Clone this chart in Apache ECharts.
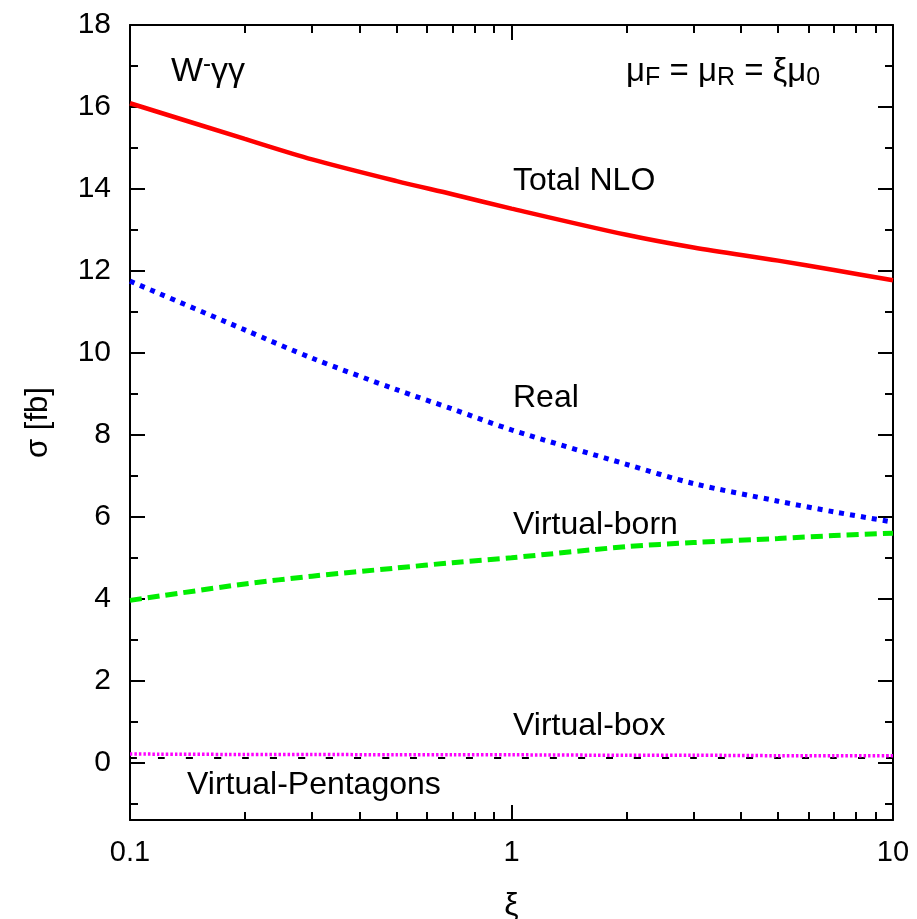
<!DOCTYPE html>
<html>
<head>
<meta charset="utf-8">
<script src="https://cdn.jsdelivr.net/npm/echarts@6/dist/echarts.min.js"></script>
<style>
  html, body { margin: 0; padding: 0; background: #fff; }
  #chart { width: 917px; height: 919px; }
</style>
</head>
<body>
<div id="chart"></div>
<script>
// scale factor xi and cross sections [fb]
const xi = [0.1, 0.2, 0.3, 0.5, 0.7, 1, 2, 3, 5, 7, 10];
const totalNLO = [16.09, 15.22, 14.72, 14.19, 13.87, 13.52, 12.88, 12.57, 12.25, 12.02, 11.77];
const real = [11.75, 10.56, 9.87, 9.10, 8.63, 8.12, 7.28, 6.81, 6.38, 6.12, 5.87];
const virtualBorn = [3.96, 4.36, 4.55, 4.75, 4.88, 5.00, 5.27, 5.37, 5.47, 5.54, 5.60];
const virtualBox = [0.21, 0.20, 0.20, 0.19, 0.19, 0.19, 0.18, 0.18, 0.17, 0.17, 0.17];
const virtualPent = [0.11, 0.11, 0.11, 0.11, 0.11, 0.11, 0.11, 0.11, 0.11, 0.11, 0.11];

const xMajor = [0.1, 1, 10];
const xMinor = [0.2, 0.3, 0.4, 0.5, 0.6, 0.7, 0.8, 0.9, 2, 3, 4, 5, 6, 7, 8, 9];
const yMajor = [0, 2, 4, 6, 8, 10, 12, 14, 16, 18];
const yMinor = [-1, 1, 3, 5, 7, 9, 11, 13, 15, 17];

const FONT = 'Liberation Sans, Arial, Helvetica, sans-serif';

let chart = echarts.init(document.getElementById('chart'));

function pairs(ys) {
  return xi.map((x, i) => [x, ys[i]]);
}

function xAx(pos, ticks, len, labels, line) {
  return {
    type: 'log', logBase: 10, min: 0.1, max: 10, position: pos,
    axisLine: { show: line, onZero: false, lineStyle: { color: '#000', width: 2 } },
    axisTick: { show: true, inside: true, length: len, customValues: ticks,
      lineStyle: { color: '#000', width: 2 } },
    axisLabel: labels ? { show: true, customValues: xMajor, color: '#000',
      fontSize: 29, fontFamily: FONT, margin: 18,
      formatter: v => String(+v.toPrecision(3)) } : { show: false },
    splitLine: { show: false },
    minorTick: { show: false }
  };
}

function yAx(pos, ticks, len, labels, line) {
  return {
    type: 'value', min: -1.4, max: 18, position: pos,
    axisLine: { show: line, onZero: false, lineStyle: { color: '#000', width: 2 } },
    axisTick: { show: true, inside: true, length: len, customValues: ticks,
      lineStyle: { color: '#000', width: 2 } },
    axisLabel: labels ? { show: true, customValues: yMajor, color: '#000',
      fontSize: 30, fontFamily: FONT, margin: 19 } : { show: false },
    splitLine: { show: false }
  };
}

let xAxes = [
  xAx('bottom', xMajor, 15, true, true),
  xAx('bottom', xMinor, 8, false, false),
  xAx('top', xMajor, 15, false, true),
  xAx('top', xMinor, 8, false, false)
];
xAxes[0].name = 'ξ';
xAxes[0].nameLocation = 'middle';
xAxes[0].nameGap = 70;
xAxes[0].nameTextStyle = { fontSize: 32, fontFamily: FONT, color: '#000' };

let yAxes = [
  yAx('left', yMajor, 15, true, true),
  yAx('left', yMinor, 8, false, false),
  yAx('right', yMajor, 15, false, true),
  yAx('right', yMinor, 8, false, false)
];
yAxes[0].name = 'σ [fb]';
yAxes[0].nameLocation = 'middle';
yAxes[0].nameGap = 76;
yAxes[0].nameTextStyle = { fontSize: 31, fontFamily: FONT, color: '#000' };

function line(data, color, width, type, z) {
  return {
    type: 'line', data: pairs(data), xAxisIndex: 0, yAxisIndex: 0,
    showSymbol: false, smooth: 0.3, z: z, silent: true,
    lineStyle: { color: color, width: width, type: type, cap: 'butt' }
  };
}

function label(text, x, y) {
  return {
    type: 'text', x: x, y: y, z: 100,
    style: { text: text, font: '32px ' + FONT, fill: '#000', verticalAlign: 'middle' }
  };
}

chart.setOption({
  animation: false,
  backgroundColor: '#fff',
  grid: { left: 130, right: 24, top: 25, bottom: 99, containLabel: false, outerBoundsMode: 'none' },
  xAxis: xAxes,
  yAxis: yAxes,
  series: [
    line(virtualPent, '#000', 2, [7, 21], 2),
    line(virtualBox, '#ff00ff', 3.5, [2.5, 2], 3),
    line(virtualBorn, '#00ee00', 5, [12, 6], 4),
    line(real, '#0000ff', 5, [5, 6], 5),
    line(totalNLO, '#ff0000', 4.5, 'solid', 6)
  ],
  graphic: [
    label('Total NLO', 513, 181),
    label('Real', 513, 398),
    label('Virtual-born', 513, 525),
    label('Virtual-box', 513, 726),
    label('Virtual-Pentagons', 187, 785),
    {
      type: 'text', x: 171, y: 72, z: 100,
      style: {
        text: '{n|W}{sup|-}{n|γγ}', verticalAlign: 'middle', fill: '#000',
        rich: {
          n: { fontSize: 34, fontFamily: FONT },
          sup: { fontSize: 24, fontFamily: FONT, padding: [0, 0, 16, 0] }
        }
      }
    },
    {
      type: 'text', x: 626, y: 72, z: 100,
      style: {
        text: '{n|μ}{s|F}{n| = μ}{s|R}{n| = ξμ}{s|0}', verticalAlign: 'middle', fill: '#000',
        rich: {
          n: { fontSize: 33, fontFamily: FONT },
          s: { fontSize: 25, fontFamily: FONT, padding: [13, 0, 0, 0] }
        }
      }
    }
  ]
});
</script>
</body>
</html>
